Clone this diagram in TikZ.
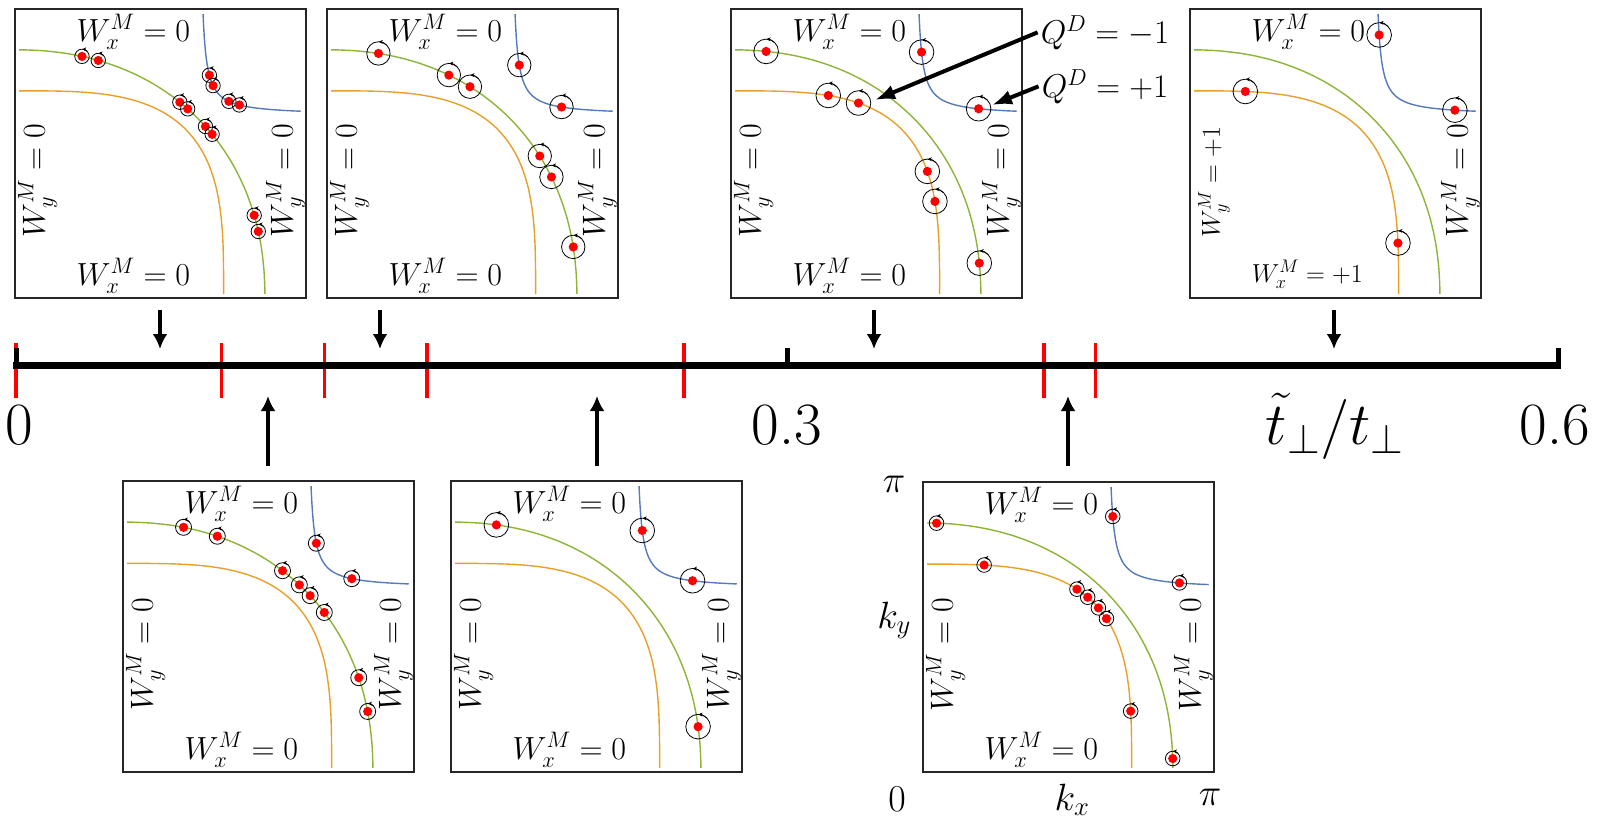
\RequirePackage{fix-cm}
\documentclass[tikz,border=0pt]{standalone}
\usetikzlibrary{arrows.meta}
\definecolor{cgreen}{RGB}{141,180,55}
\definecolor{corange}{RGB}{232,160,40}
\definecolor{cblue}{RGB}{85,122,188}
\tikzset{
  fcurve/.style={line width=1.4pt},
  pbox/.style={line width=1.8pt, draw=black!85},
  dcirc/.style={line width=0.8pt, draw=black},
  plbl/.style={font=\fontsize{32}{38}\selectfont, inner sep=0pt, anchor=base},
  plbls/.style={font=\fontsize{26}{31}\selectfont, inner sep=0pt, anchor=base},
  tlbl/.style={font=\fontsize{60}{72}\selectfont, inner sep=0pt, anchor=base},
  albl/.style={font=\fontsize{38}{46}\selectfont, inner sep=0pt},
  qlbl/.style={font=\fontsize{33}{40}\selectfont, inner sep=3pt, anchor=base},
  tarr/.style={line width=3.2pt, -{Latex[length=15pt,width=15pt]}},
  qarr/.style={line width=4pt, -{Latex[length=20pt,width=15pt]}},
  rtick/.style={red, line width=3.5pt},
  btick/.style={black, line width=5pt},
}
\newcommand\dfct[2]{%
  \draw[dcirc] #1 circle (#2pt);
  \draw[dcirc,-{Stealth[length=4pt,width=4pt]}] #1 ++(45:#2pt) arc[start angle=45,end angle=88,radius=#2pt];
  \fill[red] #1 circle (4.6pt);
}
\newcommand\gdf[2]{\dfct{(#1:{0.859/pow(pow(cos(#1),2.18)+pow(sin(#1),2.18),0.4587)})}{#2}}
\newcommand\odf[2]{\dfct{(#1:{0.717/pow(pow(cos(#1),3.41)+pow(sin(#1),3.41),0.2933)})}{#2}}
\newcommand\bdf[2]{\dfct{({0.632+0.0707*exp(#1)},{0.632+0.0707/exp(#1)})}{#2}}
\newcommand\fermicurves{%
  \draw[fcurve,corange] plot[domain=1.1:88.9,samples=100] (\x:{0.717/pow(pow(cos(\x),3.41)+pow(sin(\x),3.41),0.2933)});
  \draw[fcurve,cgreen] plot[domain=0.95:89.05,samples=100] (\x:{0.859/pow(pow(cos(\x),2.18)+pow(sin(\x),2.18),0.4587)});
  \draw[fcurve,cblue] plot[domain=-1.6:1.6,samples=80] ({0.632+0.0707*exp(\x)},{0.632+0.0707/exp(\x)});
  \draw[pbox] (0,0) rectangle (1,1);
}
\newcommand\toplbl[1]{\node[plbl] (#1t) at (0.407,0.888) {$W_x^M = 0$};}
\newcommand\botlbl[1]{\node[plbl] (#1b) at (0.407,0.043) {$W_x^M = 0$};}
\newcommand\leftlbl[1]{\node[plbl,rotate=90] (#1l) at (0.103,0.405) {$W_y^M = 0$};}
\newcommand\rightlbl[1]{\node[plbl,rotate=90] (#1r) at (0.955,0.405) {$W_y^M = 0$};}
\newcommand\stdlabels[1]{\toplbl{#1}\botlbl{#1}\leftlbl{#1}\rightlbl{#1}}
\begin{document}
\begin{tikzpicture}[x=1pt,y=-1pt]
\useasboundingbox (0,0) rectangle (1598,828);

% ---------- panel 1 ----------
\begin{scope}[shift={(15,298)}, x={(291pt,0pt)}, y={(0pt,289pt)}]
  \fermicurves
  \stdlabels{pa}
  \gdf{74.6}{7.2}\gdf{70.8}{7.2}\gdf{50.1}{7.2}\gdf{47.8}{7.2}
  \gdf{42.2}{7.2}\gdf{39.9}{7.2}\gdf{19.2}{7.2}\gdf{15.4}{7.2}
  \bdf{-0.676}{7.2}\bdf{-0.375}{7.2}\bdf{0.375}{7.2}\bdf{0.676}{7.2}
\end{scope}
% ---------- panel 2 ----------
\begin{scope}[shift={(327,298)}, x={(291pt,0pt)}, y={(0pt,289pt)}]
  \fermicurves
  \stdlabels{pb}
  \gdf{78.2}{11.7}\gdf{61.5}{11.7}\gdf{56.1}{11.7}
  \gdf{33.9}{11.7}\gdf{28.5}{11.7}\gdf{11.8}{11.7}
  \bdf{-0.9}{11.7}\bdf{0.9}{11.7}
\end{scope}
% ---------- panel 3 ----------
\begin{scope}[shift={(731,298)}, x={(291pt,0pt)}, y={(0pt,289pt)}]
  \fermicurves
  \stdlabels{pc}
  \gdf{81.95}{12.3}\gdf{8.05}{12.3}
  \odf{64.5}{12.3}\odf{57.0}{12.3}\odf{33.0}{12.3}\odf{25.5}{12.3}
  \bdf{-1.13}{12.3}\bdf{1.13}{12.3}
\end{scope}
% ---------- panel 4 ----------
\begin{scope}[shift={(1190,298)}, x={(291pt,0pt)}, y={(0pt,289pt)}]
  \fermicurves
  \toplbl{pd}\rightlbl{pd}
  \node[plbls] (pdb) at (0.403,0.054) {$W_x^M = +1$};
  \node[plbls,rotate=90] (pdl) at (0.103,0.40) {$W_y^M = +1$};
  \odf{75.1}{12.3}\odf{14.9}{12.3}
  \bdf{-1.37}{12.3}\bdf{1.37}{12.3}
\end{scope}
% ---------- panel 5 ----------
\begin{scope}[shift={(123,772)}, x={(291pt,0pt)}, y={(0pt,291pt)}]
  \fermicurves
  \stdlabels{pe}
  \gdf{76.1}{8}\gdf{68.2}{8}\gdf{51.6}{8}\gdf{46.7}{8}
  \gdf{43.3}{8}\gdf{38.4}{8}\gdf{21.8}{8}\gdf{13.9}{8}
  \bdf{-0.78}{8}\bdf{0.78}{8}
\end{scope}
% ---------- panel 6 ----------
\begin{scope}[shift={(451,772)}, x={(291pt,0pt)}, y={(0pt,291pt)}]
  \fermicurves
  \stdlabels{pf}
  \gdf{79.6}{12.3}\gdf{10.4}{12.3}
  \bdf{-1.03}{12.3}\bdf{1.03}{12.3}
\end{scope}
% ---------- panel 7 ----------
\begin{scope}[shift={(923,772)}, x={(291pt,0pt)}, y={(0pt,290pt)}]
  \fermicurves
  \stdlabels{pg}
  \gdf{86.9}{7.3}\gdf{3.1}{7.3}
  \odf{73.6}{7.3}\odf{16.4}{7.3}\odf{50.0}{7.3}\odf{40.0}{7.3}\odf{46.8}{7.3}\odf{43.2}{7.3}
  \bdf{-1.26}{7.3}\bdf{1.26}{7.3}
\end{scope}

% axis labels of panel 7
\node[albl] (pitop) at (894,484) {$\pi$};
\node[albl,anchor=base] (ky) at (894,628) {$k_y$};
\node[albl] (zero) at (897,799) {$0$};
\node[albl,anchor=base] (kx) at (1072,810) {$k_x$};
\node[albl] (piright) at (1210,797) {$\pi$};

% ---------- timeline ----------
\foreach \t in {16,221.6,324.4,427.2,684.2,1044,1095.4}
  \draw[rtick] (\t,343) -- (\t,398);
\draw[line width=7pt] (13,365) -- (1561,365);
\foreach \t in {16,787,1558}
  \draw[btick] (\t,348) -- (\t,365);

\node[tlbl] (n0) at (19,444) {0};
\node[tlbl] (n3) at (787,444) {0.3};
\node[tlbl] (n6) at (1555,444) {0.6};
\node[tlbl] (nt) at (1335,444) {$\tilde{t}_\perp/t_\perp$};

% down arrows
\foreach \i/\xx in {1/160,2/380,3/874,4/1334}{
  \coordinate (ds\i) at (\xx,310);
  \coordinate (de\i) at (\xx,349);
  \draw[tarr] (ds\i) -- (de\i);
}
% up arrows
\foreach \i/\xx in {1/268,2/597,3/1068}{
  \coordinate (us\i) at (\xx,466);
  \coordinate (ue\i) at (\xx,396);
  \draw[tarr] (us\i) -- (ue\i);
}

% Q labels
\node[qlbl] (qm) at (1105,43) {$Q^D = -1$};
\node[qlbl] (qp) at (1105,97) {$Q^D = +1$};
\coordinate (qmt) at (875,100);
\coordinate (qpt) at (992,105);
\draw[qarr] (qm.west) -- (qmt);
\draw[qarr] (qp.west) -- (qpt);
\end{tikzpicture}
\end{document}
